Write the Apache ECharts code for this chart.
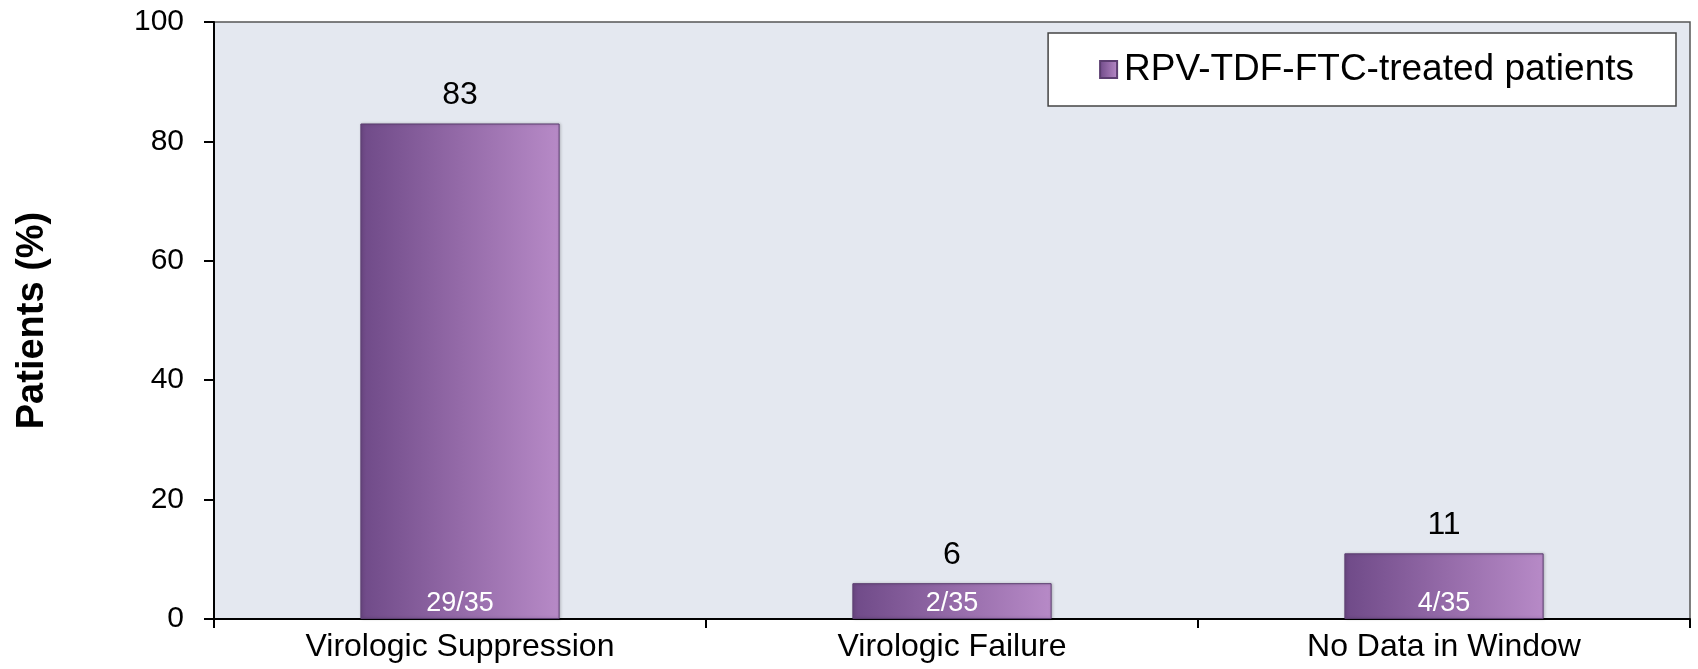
<!DOCTYPE html>
<html lang="en">

<head>
    <meta charset="UTF-8">
    <title>Patients (%)</title>
    <script src="https://cdn.jsdelivr.net/npm/echarts@6/dist/echarts.min.js"></script>
    <style>
        html, body { margin: 0; padding: 0; background: #fff; }
        #main { width: 1698px; height: 669px; }
    </style>
</head>

<body>
    <div id="main"></div>
    <script>
        var categories = ['Virologic Suppression', 'Virologic Failure', 'No Data in Window'];
        var percents = [83, 6, 11];
        var fractions = ['29/35', '2/35', '4/35'];
        var seriesName = 'RPV-TDF-FTC-treated patients';
        var yTicks = [0, 20, 40, 60, 80, 100];

        var myChart = echarts.init(document.getElementById('main'));

        // bar fill: dark purple on the left, light on the right
        var barFill = new echarts.graphic.LinearGradient(0, 0, 1, 0, [
            { offset: 0, color: '#6f4a88' },
            { offset: 0.5, color: '#946aa8' },
            { offset: 1, color: '#b78ac7' }
        ]);

        var option = {
            animation: false,
            textStyle: { fontFamily: 'Liberation Sans, Arial, sans-serif', color: '#000' },
            grid: {
                left: 214,
                right: 8,
                top: 22,
                bottom: 50,
                show: true,
                backgroundColor: '#e4e8f0',
                borderColor: '#555',
                borderWidth: 1.5
            },
            legend: {
                data: [{ name: seriesName, icon: 'rect' }],
                right: 22,
                top: 33,
                backgroundColor: '#fff',
                borderColor: '#444',
                borderWidth: 1.5,
                borderRadius: 0,
                padding: [18, 42, 18, 51],
                itemWidth: 17,
                itemHeight: 17,
                itemGap: 6,
                textStyle: { fontSize: 37, lineHeight: 37, color: '#000', padding: [0, 0, 0, 2] }
            },
            xAxis: {
                type: 'category',
                data: categories,
                axisLine: { lineStyle: { color: '#000', width: 2 } },
                axisTick: { show: true, length: 9, lineStyle: { color: '#000', width: 2 } },
                axisLabel: { fontSize: 32, color: '#000', margin: 12 }
            },
            yAxis: {
                type: 'value',
                min: yTicks[0],
                max: yTicks[yTicks.length - 1],
                interval: 20,
                name: 'Patients (%)',
                nameLocation: 'middle',
                nameGap: 162,
                nameTextStyle: { fontSize: 38, fontWeight: 'bold', color: '#000' },
                axisLine: { show: true, lineStyle: { color: '#000', width: 2 } },
                axisTick: { show: true, length: 10, lineStyle: { color: '#000', width: 2 } },
                axisLabel: { fontSize: 30, color: '#000', margin: 30 },
                splitLine: { show: false }
            },
            series: [{
                name: seriesName,
                type: 'bar',
                data: percents,
                barWidth: '40.5%',
                itemStyle: {
                    color: barFill,
                    borderColor: '#5b3d70',
                    borderWidth: 1,
                    shadowColor: 'rgba(0,0,0,0.25)',
                    shadowBlur: 3,
                    shadowOffsetX: 1,
                    shadowOffsetY: 0
                },
                label: {
                    show: true,
                    position: 'top',
                    distance: 12,
                    fontSize: 32,
                    color: '#000'
                }
            }, {
                name: 'fractions',
                type: 'bar',
                data: percents,
                barWidth: '40.5%',
                barGap: '-100%',
                silent: true,
                itemStyle: { color: 'rgba(0,0,0,0)' },
                label: {
                    show: true,
                    position: 'insideBottom',
                    distance: 2,
                    fontSize: 27,
                    color: '#fff',
                    formatter: function (p) { return fractions[p.dataIndex]; }
                }
            }]
        };

        myChart.setOption(option);
    </script>
</body>

</html>
